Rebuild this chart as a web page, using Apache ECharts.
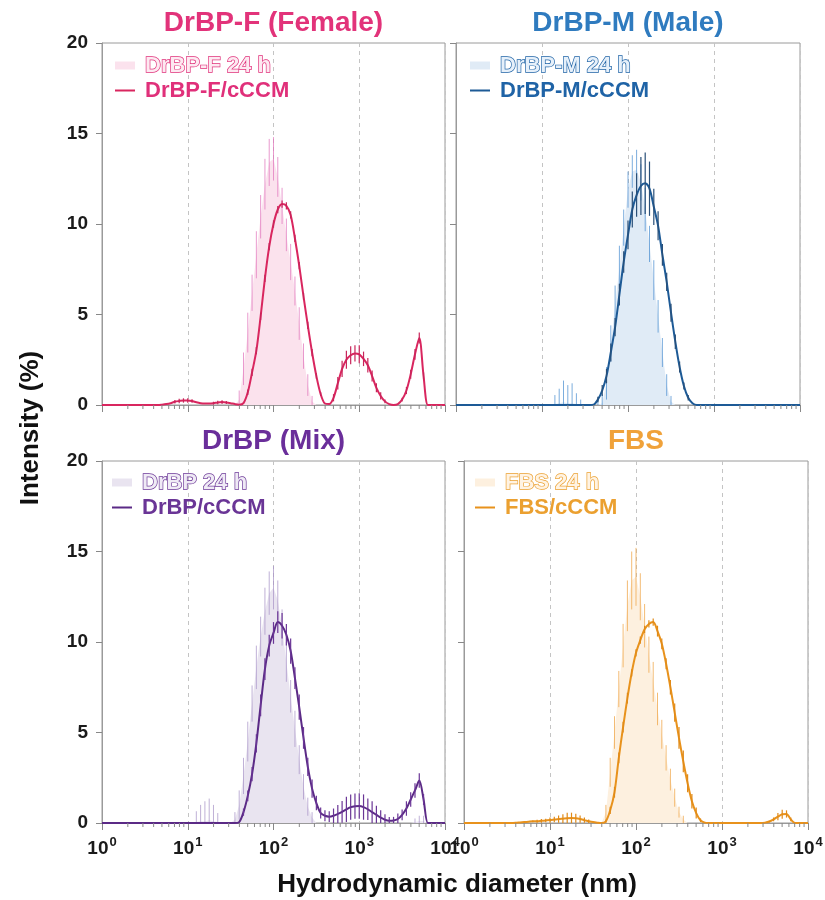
<!DOCTYPE html>
<html>
<head>
<meta charset="utf-8">
<script src="https://cdn.jsdelivr.net/npm/echarts@6.0.0/dist/echarts.min.js"></script>
<style>
  html, body { margin: 0; padding: 0; background: #fff; }
  #chart { width: 825px; height: 900px; }
</style>
</head>
<body>
<div id="chart"></div>
<script>
// size bins, log10 of diameter in nm
const logBins = [0,0.05,0.1,0.15,0.2,0.25,0.3,0.35,0.4,0.45,
  0.5,0.55,0.6,0.65,0.7,0.75,0.8,0.85,0.9,0.95,
  1,1.05,1.1,1.15,1.2,1.25,1.3,1.35,1.4,1.45,
  1.5,1.55,1.6,1.65,1.7,1.75,1.8,1.85,1.9,1.95,
  2,2.05,2.1,2.15,2.2,2.25,2.3,2.35,2.4,2.45,
  2.5,2.55,2.6,2.65,2.7,2.75,2.8,2.85,2.9,2.95,
  3,3.05,3.1,3.15,3.2,3.25,3.3,3.35,3.4,3.45,
  3.5,3.55,3.6,3.65,3.7,3.75,3.8,3.85,3.9,3.95,
  4];

// DrBP-F (Female)
const fArea = [0,0,0,0,0,0,0,0,0,0, 0,0,0,0,0,0,0,0,0,0, 0,0,0,0,0,0,0,0,0,0,
  0,0,0.3,2.0,4.0,6.2,8.3,10.4,12.2,13.4,
  13.6,12.6,11.0,9.4,7.9,6.3,4.5,2.7,1.1,0.2,
  0,0,0,0,0,0,0,0,0,0, 0,0,0,0,0,0,0,0,0,0, 0,0,0,0,0,0,0,0,0,0, 0];
const fAreaErr = [0,0,0,0,0,0,0,0,0,0, 0,0,0,0,0,0,0,0,0,0, 0,0,0,0,0,0,0,0,0,0,
  0,0,0.5,0.9,1.1,1.0,1.3,1.2,1.4,1.3,
  1.2,1.1,1.0,0.9,1.0,0.8,0.9,0.7,0.6,0.3,
  0,0,0,0,0,0,0,0,0,0, 0,0,0,0,0,0,0,0,0,0, 0,0,0,0,0,0,0,0,0,0, 0];
const fLine = [0,0,0,0,0,0,0,0,0,0,
  0,0,0,0,0.02,0.05,0.1,0.18,0.22,0.25,
  0.25,0.22,0.15,0.1,0.08,0.08,0.1,0.14,0.16,0.14,
  0.1,0.05,0.02,0.1,0.7,1.8,3.0,4.9,7.0,8.75,
  10.0,10.8,11.1,11.0,10.5,9.2,7.7,6.0,4.4,2.9,
  1.6,0.6,0.08,0.05,0.4,1.2,2.0,2.5,2.75,2.85,
  2.8,2.55,2.2,1.6,0.95,0.5,0.2,0.05,0,0.05,
  0.3,0.8,1.7,2.8,3.7,1.6,0,0,0,0, 0];
const fLineErr = [0,0,0,0,0,0,0,0,0,0,
  0,0,0,0,0,0,0,0.1,0.12,0.12,
  0.12,0.1,0,0,0,0,0.08,0.1,0.1,0.08,
  0,0,0,0,0.15,0.2,0.2,0.2,0.2,0.2,
  0.2,0.2,0.2,0.2,0.2,0.2,0.2,0.2,0.2,0.2,
  0.15,0.1,0,0,0.2,0.35,0.45,0.5,0.5,0.45,
  0.5,0.4,0.4,0.3,0.25,0.2,0.1,0,0,0,
  0.1,0.2,0.25,0.3,0.3,0.2,0,0,0,0, 0];

// DrBP-M (Male)
const mArea = [0,0,0,0,0,0,0,0,0,0, 0,0,0,0,0,0,0,0,0,0,
  0,0,0,0.05,0.1,0.15,0.1,0.1,0.05,0,
  0,0,0,0,0.1,1.2,3.4,5.5,7.6,9.8,
  11.9,12.9,13.0,12.3,10.8,8.9,6.9,4.9,2.9,1.1,
  0.2,0,0,0,0,0,0,0,0,0, 0,0,0,0,0,0,0,0,0,0, 0,0,0,0,0,0,0,0,0,0, 0];
const mAreaErr = [0,0,0,0,0,0,0,0,0,0, 0,0,0,0,0,0,0,0,0,0,
  0,0,0,0.5,0.8,1.2,1.0,1.1,0.6,0.3,
  0,0,0,0.3,0.5,0.9,1.0,1.1,1.2,1.0,
  1.0,0.9,1.1,1.0,1.2,1.0,1.1,0.9,0.8,0.6,
  0.3,0,0,0,0,0,0,0,0,0, 0,0,0,0,0,0,0,0,0,0, 0,0,0,0,0,0,0,0,0,0, 0];
const mLine = [0,0,0,0,0,0,0,0,0,0, 0,0,0,0,0,0,0,0,0,0, 0,0,0,0,0,0,0,0,0,0,
  0,0,0.02,0.3,0.8,1.6,2.9,4.3,6.1,7.9,
  9.4,10.8,11.6,12.1,12.25,11.95,10.95,9.9,8.3,6.8,
  5.1,3.5,2.1,1.05,0.4,0.1,0,0,0,0,
  0,0,0,0,0,0,0,0,0,0, 0,0,0,0,0,0,0,0,0,0, 0];
const mLineErr = [0,0,0,0,0,0,0,0,0,0, 0,0,0,0,0,0,0,0,0,0, 0,0,0,0,0,0,0,0,0,0,
  0,0,0,0.15,0.3,0.4,0.5,0.5,0.6,0.6,
  0.8,1.0,1.2,1.6,1.7,1.5,1.0,0.8,0.6,0.5,
  0.5,0.4,0.3,0.2,0.15,0,0,0,0,0,
  0,0,0,0,0,0,0,0,0,0, 0,0,0,0,0,0,0,0,0,0, 0];

// DrBP (Mix)
const xArea = [0,0,0,0,0,0,0,0,0,0, 0,0,0,0,0,0,0,0,0,0,
  0,0,0.05,0.1,0.1,0.15,0.1,0.05,0,0,
  0,0.2,1.0,2.6,4.5,6.6,8.6,10.3,11.7,12.7,
  13.0,12.3,10.8,8.9,7.0,5.2,3.5,2.0,0.9,0.3,
  0,0,0,0,0,0,0,0,0,0, 0,0,0,0,0,0,0,0,0,0,
  0,0,0,0.05,0.1,0.1,0,0,0,0, 0];
const xAreaErr = [0,0,0,0,0,0,0,0,0,0, 0,0,0,0,0,0,0,0,0,0,
  0,0,0.6,0.9,1.1,1.2,0.9,0.5,0,0,
  0,0.4,0.8,1.0,1.1,1.0,1.2,1.1,1.3,1.2,
  1.2,1.1,1.0,1.1,0.9,1.0,0.8,0.7,0.5,0.3,
  0,0,0,0,0,0,0,0,0,0, 0,0,0,0,0,0,0,0,0,0,
  0,0,0,0.2,0.3,0.3,0,0,0,0, 0];
const xLine = [0,0,0,0,0,0,0,0,0,0, 0,0,0,0,0,0,0,0,0,0, 0,0,0,0,0,0,0,0,0,0,
  0,0,0.05,0.6,1.5,2.7,4.4,6.5,8.5,9.8,
  10.5,11.1,10.9,10.4,9.5,8.0,6.4,4.7,3.1,1.9,
  1.1,0.55,0.4,0.35,0.4,0.5,0.62,0.75,0.88,0.93,
  0.94,0.88,0.76,0.6,0.45,0.3,0.18,0.13,0.14,0.22,
  0.45,0.8,1.3,1.8,2.35,1.3,0,0,0,0, 0];
const xLineErr = [0,0,0,0,0,0,0,0,0,0, 0,0,0,0,0,0,0,0,0,0, 0,0,0,0,0,0,0,0,0,0,
  0,0,0,0.2,0.3,0.4,0.5,0.6,0.6,0.6,
  0.6,0.6,0.7,0.6,0.7,0.6,0.7,0.6,0.5,0.5,
  0.4,0.3,0.3,0.3,0.4,0.5,0.6,0.7,0.7,0.7,
  0.7,0.7,0.6,0.6,0.5,0.4,0.3,0.2,0.2,0.3,
  0.3,0.4,0.4,0.4,0.4,0.3,0,0,0,0, 0];

// FBS
const bArea = [0,0,0,0,0,0,0,0,0,0, 0,0,0,0,0,0,0,0,0,0, 0,0,0,0,0,0,0,0,0,0,
  0,0,0,0.6,2.8,5.0,7.4,9.8,12.0,13.4,
  13.6,12.5,10.9,9.3,7.8,6.3,4.9,3.6,2.4,1.4,
  0.6,0.2,0,0,0,0,0,0,0,0,
  0,0,0,0,0,0,0,0,0,0, 0,0,0,0,0,0,0,0,0,0, 0];
const bAreaErr = [0,0,0,0,0,0,0,0,0,0, 0,0,0,0,0,0,0,0,0,0, 0,0,0,0,0,0,0,0,0,0,
  0,0,0,0.4,0.8,0.9,1.0,1.2,1.4,1.6,
  1.6,1.3,1.2,1.0,1.1,0.9,0.8,0.7,0.6,0.5,
  0.3,0.2,0,0,0,0,0,0,0,0,
  0,0,0,0,0,0,0,0,0,0, 0,0,0,0,0,0,0,0,0,0, 0];
const bLine = [0,0,0,0,0,0,0,0,0,0,
  0,0,0.01,0.03,0.05,0.07,0.09,0.1,0.12,0.14,
  0.16,0.19,0.22,0.24,0.26,0.27,0.26,0.22,0.16,0.1,
  0.05,0.02,0,0.1,0.7,1.7,3.6,5.3,6.9,8.3,
  9.4,10.1,10.7,11.0,11.1,10.6,9.9,8.8,7.5,6.1,
  4.7,3.4,2.2,1.2,0.55,0.15,0.02,0,0,0,
  0,0,0,0,0,0,0,0,0,0,
  0.02,0.08,0.2,0.35,0.48,0.5,0.2,0,0,0, 0];
const bLineErr = [0,0,0,0,0,0,0,0,0,0,
  0,0,0,0,0,0,0.05,0.08,0.1,0.1,
  0.15,0.15,0.2,0.25,0.3,0.3,0.25,0.2,0.15,0.1,
  0,0,0,0.1,0.2,0.3,0.3,0.3,0.3,0.2,
  0.2,0.2,0.2,0.2,0.2,0.3,0.3,0.3,0.4,0.5,
  0.6,0.6,0.5,0.4,0.3,0.1,0,0,0,0,
  0,0,0,0,0,0,0,0,0,0,
  0,0.05,0.1,0.2,0.25,0.2,0.1,0,0,0, 0];

const FONT = '"Liberation Sans", Arial, Helvetica, sans-serif';
// thin horizontal bar icon for the line entries (corner moves keep the 20x8 box)
const LINE_ICON = 'path://M0,0L0.01,0L0,0.01ZM0,3.1H20V4.9H0ZM20,8L19.99,8L20,7.99Z';

const panels = [
  { title: 'DrBP-F (Female)', areaName: 'DrBP-F 24 h', lineName: 'DrBP-F/cCCM',
    area: fArea, areaErr: fAreaErr, line: fLine, lineErr: fLineErr,
    titleColor: '#e2337a', lineColor: '#d9265f', fill: '#fbe2ed', areaErrColor: 'rgba(226,120,190,0.75)',
    lineErrColor: '#c8245a', textColor: '#e0307a', textFill: '#fde9f1',
    grid: { left: 102, top: 43, width: 343, height: 362 }, legend: { left: 115, top: 53 },
    showX: false, showY: true },
  { title: 'DrBP-M (Male)', areaName: 'DrBP-M 24 h', lineName: 'DrBP-M/cCCM',
    area: mArea, areaErr: mAreaErr, line: mLine, lineErr: mLineErr,
    titleColor: '#2f7bbf', lineColor: '#1d5a96', fill: '#e0ebf6', areaErrColor: 'rgba(80,145,210,0.75)',
    lineErrColor: '#294f78', textColor: '#1f63a6', textFill: '#e6f0fa',
    grid: { left: 456, top: 43, width: 344, height: 362 }, legend: { left: 470, top: 53 },
    showX: false, showY: false },
  { title: 'DrBP (Mix)', areaName: 'DrBP 24 h', lineName: 'DrBP/cCCM',
    area: xArea, areaErr: xAreaErr, line: xLine, lineErr: xLineErr,
    titleColor: '#6a2e9a', lineColor: '#5b2a86', fill: '#e9e4f0', areaErrColor: 'rgba(170,150,200,0.75)',
    lineErrColor: '#6a3596', textColor: '#6a3596', textFill: '#efeaf5',
    grid: { left: 102, top: 461, width: 343, height: 362 }, legend: { left: 112, top: 470 },
    showX: true, showY: true },
  { title: 'FBS', areaName: 'FBS 24 h', lineName: 'FBS/cCCM',
    area: bArea, areaErr: bAreaErr, line: bLine, lineErr: bLineErr,
    titleColor: '#f0a23a', lineColor: '#e8921c', fill: '#fdf0df', areaErrColor: 'rgba(240,170,80,0.8)',
    lineErrColor: '#e08a18', textColor: '#eba030', textFill: '#fff3e3',
    grid: { left: 464, top: 461, width: 344, height: 362 }, legend: { left: 475, top: 470 },
    showX: true, showY: false }
];

// log minor tick positions (2..9 in each decade)
const minorTicks = [];
[1, 10, 100, 1000].forEach(d => { for (let k = 2; k <= 9; k++) minorTicks.push([k * d, 0]); });

function pairs(vals) {
  return logBins.map((e, i) => [Math.pow(10, e), vals[i]]);
}
function errData(vals, errs) {
  const out = [];
  logBins.forEach((e, i) => {
    if (errs[i] > 0) out.push([Math.pow(10, e), Math.max(0, vals[i] - errs[i]), vals[i] + errs[i]]);
  });
  return out;
}
function errSeries(i, data, color, width, z) {
  return {
    type: 'custom', xAxisIndex: i, yAxisIndex: i, data: data, z: z, silent: true, clip: true,
    encode: { x: 0, y: [1, 2] },
    renderItem: function (params, api) {
      const p1 = api.coord([api.value(0), api.value(1)]);
      const p2 = api.coord([api.value(0), api.value(2)]);
      return { type: 'line', shape: { x1: p1[0], y1: p1[1], x2: p2[0], y2: p2[1] },
               style: { stroke: color, lineWidth: width } };
    }
  };
}

const grids = [], xAxes = [], yAxes = [], series = [], legends = [], graphics = [];

panels.forEach((p, i) => {
  grids.push(Object.assign({ show: true, borderColor: '#9a9a9a', borderWidth: 1,
    backgroundColor: 'transparent', outerBoundsMode: 'none', containLabel: false }, p.grid));

  xAxes.push({
    type: 'log', logBase: 10, min: 1, max: 10000, gridIndex: i,
    axisLine: { show: true, onZero: false, lineStyle: { color: '#9a9a9a', width: 1 } },
    axisTick: { show: true, inside: false, length: 7, lineStyle: { color: '#888' } },
    minorTick: { show: false },
    splitLine: { show: true, lineStyle: { type: [4, 4], color: '#c4c4c4', width: 1 } },
    axisLabel: {
      show: p.showX, margin: 13, showMinLabel: true, showMaxLabel: true, hideOverlap: false,
      formatter: function (v) { return '{b|10}{s|' + Math.round(Math.log10(v)) + '}'; },
      rich: {
        b: { fontFamily: FONT, fontWeight: 'bold', fontSize: 19, color: '#1a1a1a' },
        s: { fontFamily: FONT, fontWeight: 'bold', fontSize: 13, color: '#1a1a1a', padding: [0, 0, 12, 1] }
      }
    }
  });

  yAxes.push({
    type: 'value', min: 0, max: 20, interval: 5, gridIndex: i,
    axisLine: { show: true, lineStyle: { color: '#9a9a9a', width: 1 } },
    axisTick: { show: true, inside: false, length: 6, lineStyle: { color: '#888' } },
    splitLine: { show: false },
    axisLabel: { show: p.showY, margin: 14, fontFamily: FONT, fontWeight: 'bold', fontSize: 19, color: '#1a1a1a' }
  });

  series.push({
    type: 'line', name: p.areaName, xAxisIndex: i, yAxisIndex: i, data: pairs(p.area),
    symbol: 'none', showSymbol: false, silent: true, z: 1,
    color: p.fill, itemStyle: { color: p.fill },
    lineStyle: { width: 0, color: p.fill }, areaStyle: { color: p.fill, opacity: 1 }
  });
  series.push(errSeries(i, errData(p.area, p.areaErr), p.areaErrColor, 1, 2));
  series.push({
    type: 'line', name: p.lineName, xAxisIndex: i, yAxisIndex: i, data: pairs(p.line),
    symbol: 'none', showSymbol: false, silent: true, smooth: 0.3, z: 4,
    color: p.lineColor, itemStyle: { color: p.lineColor },
    lineStyle: { width: 2, color: p.lineColor }
  });
  series.push(errSeries(i, errData(p.line, p.lineErr), p.lineErrColor, 1.2, 5));
  series.push({
    type: 'custom', xAxisIndex: i, yAxisIndex: i, data: minorTicks, clip: false, silent: true, z: 10,
    renderItem: function (params, api) {
      const c = api.coord([api.value(0), 0]);
      return { type: 'line', shape: { x1: c[0], y1: c[1], x2: c[0], y2: c[1] + 4 },
               style: { stroke: '#888', lineWidth: 1 } };
    }
  });

  legends.push({
    left: p.legend.left, top: p.legend.top, orient: 'vertical', padding: 0, itemGap: 0,
    itemWidth: 20, itemHeight: 8, selectedMode: false,
    textStyle: { fontFamily: FONT, fontWeight: 'bold', fontSize: 22, lineHeight: 25, padding: [0, 0, 0, 5] },
    data: [
      { name: p.areaName, icon: 'rect', itemStyle: { color: p.fill },
        textStyle: { color: p.textFill, textBorderColor: p.textColor, textBorderWidth: 1.4 } },
      { name: p.lineName, icon: LINE_ICON, itemStyle: { color: p.lineColor },
        textStyle: { color: p.textColor } }
    ]
  });

  graphics.push({
    type: 'text', x: p.grid.left + p.grid.width / 2, y: p.grid.top - 20,
    style: { text: p.title, fill: p.titleColor, font: 'bold 28px ' + FONT,
             textAlign: 'center', verticalAlign: 'middle' }
  });
});

graphics.push({
  type: 'text', x: 31, y: 428, rotation: Math.PI / 2,
  style: { text: 'Intensity (%)', fill: '#111', font: 'bold 26px ' + FONT,
           textAlign: 'center', verticalAlign: 'middle' }
});
graphics.push({
  type: 'text', x: 457, y: 885,
  style: { text: 'Hydrodynamic diameter (nm)', fill: '#111', font: 'bold 26px ' + FONT,
           textAlign: 'center', verticalAlign: 'middle' }
});

const chart = echarts.init(document.getElementById('chart'));
chart.setOption({
  animation: false,
  backgroundColor: '#fff',
  grid: grids,
  xAxis: xAxes,
  yAxis: yAxes,
  legend: legends,
  series: series,
  graphic: graphics
});
</script>
</body>
</html>
